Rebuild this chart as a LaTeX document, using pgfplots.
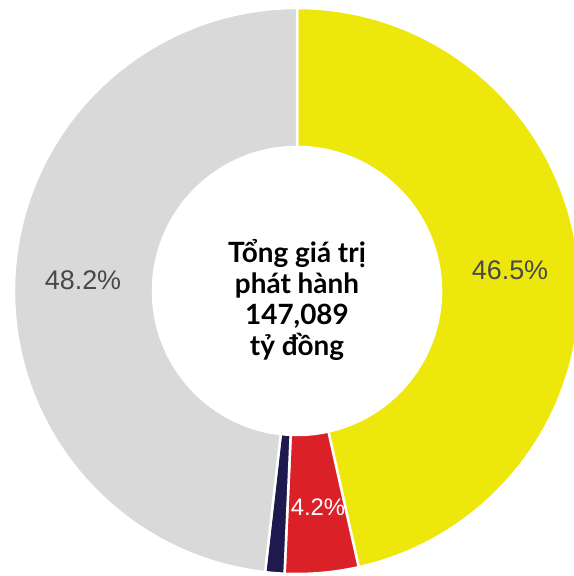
\documentclass[border=0pt]{standalone}
\usepackage{pgfplots}
\pgfplotsset{compat=1.18}
\usepackage{fontspec}
\setmainfont{Liberation Sans}
\newfontfamily\centerfont{Lato}
\definecolor{cyel}{RGB}{237,231,12}
\definecolor{cred}{RGB}{218,33,40}
\definecolor{cnavy}{RGB}{30,26,80}
\definecolor{cgray}{RGB}{217,217,217}
\definecolor{clab}{RGB}{72,72,72}
% shares (percent)
\def\vA{46.5}\def\vB{4.2}\def\vC{1.1}\def\vD{48.2}
\def\Ro{283}\def\Ri{144}
\newcommand{\slice}[3]{%
  \fill[#3,draw=white,line width=2.5bp]
    (axis cs:{\Ro*cos(#1)},{\Ro*sin(#1)}) arc[start angle=#1,end angle=#2,radius=\Ro bp]
    -- (axis cs:{\Ri*cos(#2)},{\Ri*sin(#2)}) arc[start angle=#2,end angle=#1,radius=\Ri bp] -- cycle;}
\begin{document}
\begin{tikzpicture}
\begin{axis}[x=1bp,y=1bp,xmin=-297,xmax=277,ymin=-285,ymax=291,
  hide axis,clip=true]
\pgfmathsetmacro\aA{90}
\pgfmathsetmacro\aB{90-\vA*3.6}
\pgfmathsetmacro\aC{\aB-\vB*3.6}
\pgfmathsetmacro\aD{\aC-\vC*3.6}
\pgfmathsetmacro\aE{\aD-\vD*3.6}
\slice{\aA}{\aB}{cyel}
\slice{\aB}{\aC}{cred}
\node[white,font=\fontsize{24}{28}\selectfont] at (axis cs:21,-216) {4.2\%};
\slice{\aC}{\aD}{cnavy}
\slice{\aD}{\aE}{cgray}
\node[clab,font=\fontsize{27}{32}\selectfont] at (axis cs:213,21) {46.5\%};
\node[clab,font=\fontsize{27}{32}\selectfont] at (axis cs:-214,11) {48.2\%};
\node[align=center,font=\centerfont\bfseries\fontsize{28}{31}\selectfont] at (axis cs:0,-9)
  {Tổng giá trị\\phát hành\\147,089\\tỷ đồng};
\coordinate (sw) at (axis cs:-297,-285);
\coordinate (ne) at (axis cs:277,291);
\end{axis}
\pgfresetboundingbox
\path[use as bounding box] (sw) rectangle (ne);
\end{tikzpicture}
\end{document}
